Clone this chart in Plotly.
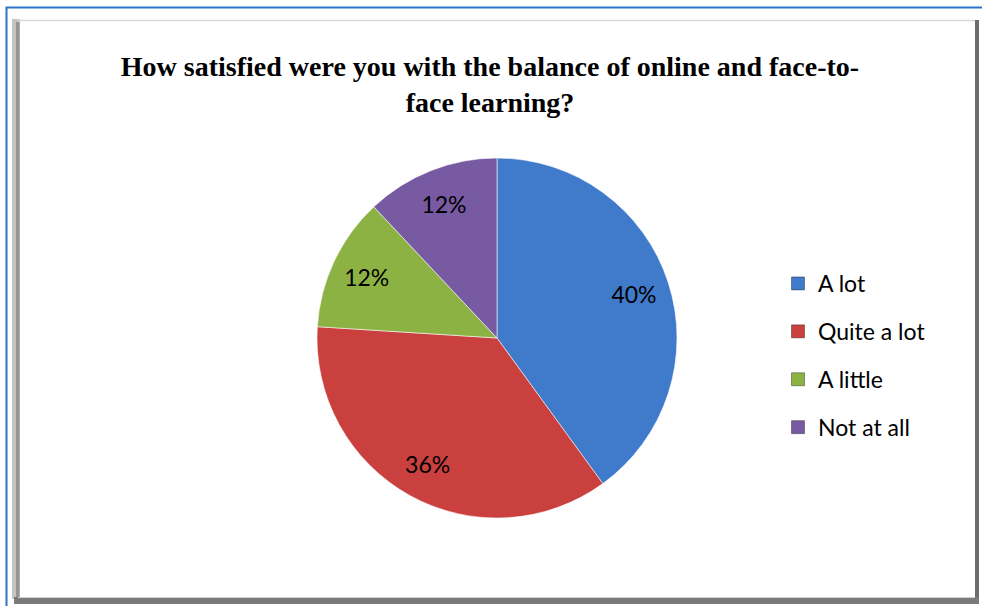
import plotly.graph_objects as go

# survey answers
labels = ["A lot", "Quite a lot", "A little", "Not at all"]
values = [40, 36, 12, 12]
colors = ["#3f7acb", "#c9403e", "#8db244", "#785aa2"]

W, H = 982, 606
pie_dom = dict(x=[317 / W, 677 / W], y=[88 / H, 448 / H])

fig = go.Figure()

fig.add_trace(go.Pie(
    labels=labels,
    values=values,
    sort=False,
    direction="clockwise",
    rotation=0,
    marker=dict(colors=colors, line=dict(color="rgba(255,255,255,0.55)", width=1)),
    textinfo="none",
    domain=pie_dom,
    showlegend=False,
    hoverinfo="label+percent",
))

# transparent ring on top, only to place the percent labels further out
fig.add_trace(go.Pie(
    labels=labels,
    values=values,
    sort=False,
    direction="clockwise",
    rotation=0,
    hole=0.6,
    marker=dict(colors=["rgba(0,0,0,0)"] * 4, line=dict(width=0)),
    texttemplate="%{percent:.0%}",
    textposition="inside",
    insidetextorientation="horizontal",
    textfont=dict(family="Lato, Carlito, sans-serif", size=23, color="black"),
    domain=pie_dom,
    showlegend=False,
    hoverinfo="label+percent",
))

# legend entries as dummy traces so the item gap can be set
for lab, col in zip(labels, colors):
    fig.add_trace(go.Scatter(
        x=[None], y=[None], mode="markers", name=lab, legendgroup=lab,
        marker=dict(symbol="square", size=13, color=col,
                    line=dict(color="rgba(0,0,0,0.35)", width=1)),
    ))

shapes = []
# outer blue border
shapes.append(dict(type="rect", xref="paper", yref="paper",
                   x0=6.5 / W, x1=1.2, y0=-0.2, y1=1 - 7.5 / H,
                   line=dict(color="#2a73c5", width=2)))
# bevel frame
shapes += [
    dict(type="rect", xref="paper", yref="paper", x0=12 / W, x1=20 / W,
         y0=1 - 599 / H, y1=1 - 19 / H, fillcolor="#c4c4c4", line_width=0),
    dict(type="rect", xref="paper", yref="paper", x0=16 / W, x1=19.5 / W,
         y0=1 - 597 / H, y1=1 - 22 / H, fillcolor="#959595", line_width=0),
    dict(type="line", xref="paper", yref="paper", x0=18 / W, x1=975 / W,
         y0=1 - 20.5 / H, y1=1 - 20.5 / H, line=dict(color="#d9d9d9", width=1.5)),
    dict(type="rect", xref="paper", yref="paper", x0=975 / W, x1=979 / W,
         y0=1 - 603 / H, y1=1 - 20 / H, fillcolor="#6e6e6e", line_width=0),
    dict(type="rect", xref="paper", yref="paper", x0=14 / W, x1=979 / W,
         y0=1 - 604 / H, y1=1 - 597 / H, fillcolor="#7a7a7a", line_width=0),
    dict(type="line", xref="paper", yref="paper", x0=18 / W, x1=975 / W,
         y0=1 - 597.5 / H, y1=1 - 597.5 / H, line=dict(color="#d0d0d0", width=1)),
]

fig.update_layout(
    width=W, height=H,
    margin=dict(l=0, r=0, t=0, b=0),
    paper_bgcolor="white",
    plot_bgcolor="white",
    xaxis=dict(visible=False),
    yaxis=dict(visible=False),
    shapes=shapes,
    title=dict(
        text="How satisfied were you with the balance of online and face-to-<br>face learning?",
        x=490 / W, xanchor="center", y=1 - 76 / H, yanchor="top",
        font=dict(family="Liberation Serif, Times New Roman, serif", size=28, color="black", weight="bold"),
    ),
    legend=dict(
        x=778 / W, y=1 - 262 / H, xanchor="left", yanchor="top",
        traceorder="grouped", tracegroupgap=15,
        font=dict(family="Lato, Carlito, sans-serif", size=23, color="black"),
        itemwidth=30,
        bgcolor="rgba(0,0,0,0)",
    ),
)

fig.write_html("out.html", config={"displayModeBar": False},
               post_script="document.body.style.margin='0';")
